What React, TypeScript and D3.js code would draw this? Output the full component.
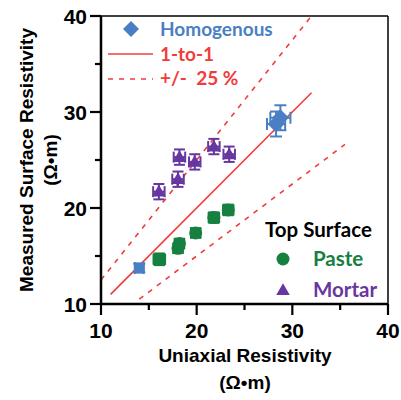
import React from 'react';
import * as d3 from 'd3';

// values (Ω·m)
const homX = [14.0, 28.3, 28.75];
const homY = [13.75, 28.75, 29.4];
const homEx = [0.45, 0.95, 1.05];
const homEy = [0.45, 1.3, 1.3];

const pasteX = [16.1, 18.05, 18.2, 19.9, 21.8, 23.3];
const pasteY = [14.65, 15.8, 16.3, 17.4, 19.0, 19.8];
const pasteEx = [0.6, 0.5, 0.5, 0.5, 0.55, 0.55];
const pasteEy = [0.6, 0.5, 0.5, 0.5, 0.55, 0.55];

const mortarX = [16.05, 18.05, 18.2, 19.8, 21.8, 23.4];
const mortarY = [21.7, 23.0, 25.3, 24.8, 26.4, 25.6];
const mortarEx = [0.6, 0.6, 0.6, 0.6, 0.6, 0.6];
const mortarEy = [0.8, 0.8, 0.8, 0.8, 0.8, 0.8];

const majorTicks = [10, 20, 30, 40];
const minorTicks = [15, 25, 35];

const oneToOne = [11, 32];
const upperRange = [10, 32];
const lowerRange = [14, 35.5];

const BLUE = '#4a7fc4';
const GREEN = '#15803f';
const PURPLE = '#6637a0';
const RED = '#f23c3c';

const x = d3.scaleLinear().domain([10, 40]).range([101, 388]);
const y = d3.scaleLinear().domain([10, 40]).range([304, 16]);

const tri = d3.symbol().type(d3.symbolTriangle).size(80)();
const sq = d3.symbol().type(d3.symbolSquare).size(120)();
const diamond = (r: number) => `M0,${-r}L${r},0L0,${r}L${-r},0Z`;

function ErrBars({ xs, ys, ex, ey, color, cap }) {
  return (
    <g stroke={color} strokeWidth={2} fill="none">
      {xs.map((v, i) => {
        const cx = x(v), cy = y(ys[i]);
        const x0 = x(v - ex[i]), x1 = x(v + ex[i]);
        const y0 = y(ys[i] + ey[i]), y1 = y(ys[i] - ey[i]);
        return (
          <g key={i}>
            <line x1={x0} x2={x1} y1={cy} y2={cy} />
            <line x1={cx} x2={cx} y1={y0} y2={y1} />
            <line x1={x0} x2={x0} y1={cy - cap} y2={cy + cap} />
            <line x1={x1} x2={x1} y1={cy - cap} y2={cy + cap} />
            <line x1={cx - cap} x2={cx + cap} y1={y0} y2={y0} />
            <line x1={cx - cap} x2={cx + cap} y1={y1} y2={y1} />
          </g>
        );
      })}
    </g>
  );
}

export default function App() {
  const font = 'Arial, "Liberation Sans", sans-serif';
  const lfont = 'Lato, "Open Sans", sans-serif';
  return (
    <svg width={401} height={400} style={{ position: 'absolute', left: 0, top: 0, background: '#fff' }}>
      {/* reference lines */}
      <line x1={x(oneToOne[0])} y1={y(oneToOne[0])} x2={x(oneToOne[1])} y2={y(oneToOne[1])} stroke={RED} strokeWidth={1.6} />
      <line x1={x(upperRange[0])} y1={y(upperRange[0] * 1.25)} x2={x(upperRange[1])} y2={y(upperRange[1] * 1.25)} stroke={RED} strokeWidth={1.6} strokeDasharray="5,6" />
      <line x1={x(lowerRange[0])} y1={y(lowerRange[0] * 0.75)} x2={x(lowerRange[1])} y2={y(lowerRange[1] * 0.75)} stroke={RED} strokeWidth={1.6} strokeDasharray="5,6" />

      {/* mortar */}
      <ErrBars xs={mortarX} ys={mortarY} ex={mortarEx} ey={mortarEy} color={PURPLE} cap={5.5} />
      {mortarX.map((v, i) => (
        <path key={i} d={tri} transform={`translate(${x(v)},${y(mortarY[i]) + 1})`} fill={PURPLE} />
      ))}

      {/* paste */}
      <ErrBars xs={pasteX} ys={pasteY} ex={pasteEx} ey={pasteEy} color={GREEN} cap={5.5} />
      {pasteX.map((v, i) =>
        i === 0 ? (
          <rect key={i} x={x(v) - 6.5} y={y(pasteY[i]) - 6.5} width={13} height={13} rx={2} fill={GREEN} />
        ) : (
          <circle key={i} cx={x(v)} cy={y(pasteY[i])} r={6.5} fill={GREEN} />
        )
      )}

      {/* homogenous */}
      <ErrBars xs={homX} ys={homY} ex={homEx} ey={homEy} color={BLUE} cap={6} />
      {homX.map((v, i) => (
        <path key={i} d={i === 0 ? sq : diamond(8.5)} transform={`translate(${x(v)},${y(homY[i])})`} fill={BLUE} />
      ))}

      {/* frame */}
      <line x1={x(10)} x2={x(40)} y1={y(40)} y2={y(40)} stroke="#000" strokeWidth={1.5} />
      <line x1={x(40)} x2={x(40)} y1={y(40)} y2={y(10)} stroke="#000" strokeWidth={1.5} />
      <line x1={x(10)} x2={x(40)} y1={y(10)} y2={y(10)} stroke="#000" strokeWidth={2.5} />
      <line x1={x(10)} x2={x(10)} y1={y(40)} y2={y(10)} stroke="#000" strokeWidth={2.5} />

      {/* ticks */}
      <g stroke="#000" strokeWidth={2.2}>
        {majorTicks.map(t => (
          <g key={t}>
            <line x1={x(t)} x2={x(t)} y1={y(10)} y2={y(10) + 11} />
            <line x1={x(10) - 11} x2={x(10)} y1={y(t)} y2={y(t)} />
          </g>
        ))}
        {minorTicks.map(t => (
          <g key={t}>
            <line x1={x(t)} x2={x(t)} y1={y(10)} y2={y(10) + 6} />
            <line x1={x(10) - 6} x2={x(10)} y1={y(t)} y2={y(t)} />
          </g>
        ))}
      </g>
      <g fontFamily={font} fontWeight="bold" fontSize={21} fill="#000">
        {majorTicks.map(t => (
          <text key={'x' + t} x={x(t)} y={338} textAnchor="middle">{t}</text>
        ))}
        {majorTicks.map(t => (
          <text key={'y' + t} x={87} y={y(t) + 8} textAnchor="end">{t}</text>
        ))}
        <text x={245} y={362} textAnchor="middle" fontSize={19}>Uniaxial Resistivity</text>
        <text x={245} y={389} textAnchor="middle" fontSize={19}>(Ω•m)</text>
        <text transform="translate(33,160) rotate(-90)" textAnchor="middle" fontSize={19}>Measured Surface Resistivity</text>
        <text transform="translate(57,160) rotate(-90)" textAnchor="middle" fontSize={19}>(Ω•m)</text>
      </g>

      {/* top-left legend */}
      <g fontFamily={lfont} fontWeight="bold" fontSize={19}>
        <path d={diamond(8)} transform="translate(131,29)" fill={BLUE} />
        <text x={160} y={36} fill={BLUE}>Homogenous</text>
        <line x1={108} x2={153} y1={54} y2={54} stroke={RED} strokeWidth={1.6} />
        <text x={160} y={61} fill={RED}>1-to-1</text>
        <line x1={108} x2={153} y1={79} y2={79} stroke={RED} strokeWidth={1.6} strokeDasharray="5,6" />
        <text x={160} y={85} fill={RED} style={{ whiteSpace: 'pre' }}>+/-  25 %</text>
      </g>

      {/* bottom-right legend */}
      <g fontFamily={lfont} fontWeight="bold" fontSize={20.5}>
        <text x={265} y={237} fill="#000">Top Surface</text>
        <circle cx={283} cy={259} r={6.5} fill={GREEN} />
        <text x={313} y={266} fill={GREEN}>Paste</text>
        <path d={tri} transform="translate(283,291)" fill={PURPLE} />
        <text x={313} y={297} fill={PURPLE}>Mortar</text>
      </g>
    </svg>
  );
}
